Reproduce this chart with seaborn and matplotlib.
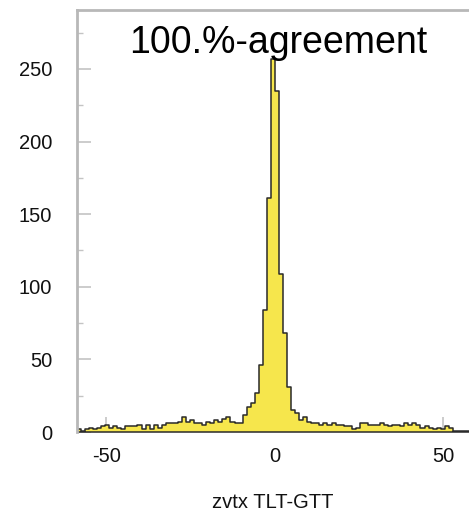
import matplotlib
matplotlib.use("Agg")
import matplotlib.pyplot as plt
from matplotlib.ticker import MultipleLocator
import numpy as np
import pandas as pd
import seaborn as sns

# histogram of zvtx difference TLT-GTT, 100 bins between -60 and 60
bin_lo, bin_hi, n_bins = -60, 60, 100
counts_left = [6, 2, 1, 2, 3, 2, 3, 4, 5, 3,
               4, 3, 2, 4, 4, 4, 5, 2, 5, 2,
               5, 3, 5, 6, 6, 6, 7, 10, 7, 8,
               6, 6, 5, 7, 6, 8, 7, 9, 10, 7,
               6, 6]
counts_peak = [12, 17, 20, 27, 46, 84, 161, 257, 235, 109, 68, 31, 15, 13, 8, 10, 7]
counts_right = [6, 6, 5, 6, 5, 6, 5, 5, 4, 4,
                2, 3, 6, 6, 5, 5, 5, 6, 5, 4,
                5, 5, 4, 6, 5, 6, 5, 3, 4, 3,
                2, 3, 2, 4, 3, 1, 1, 1, 1, 1,
                1]
counts = counts_left + counts_peak + counts_right

title = "100.%-agreement"
xlabel = "zvtx TLT-GTT"
yticks = [0, 50, 100, 150, 200, 250]
xticks = [-50, 0, 50]

edges = np.linspace(bin_lo, bin_hi, n_bins + 1)
df = pd.DataFrame({"zvtx": 0.5 * (edges[:-1] + edges[1:]), "n": counts})

sns.set_style("white")
plt.rcParams['font.family'] = ['Liberation Sans', 'DejaVu Sans']
plt.rcParams['axes.unicode_minus'] = False

fig = plt.figure(figsize=(4.69, 5.13), dpi=100)
ax = fig.add_axes([77/469, 1 - 432/513, 392/469, 422/513])

sns.histplot(data=df, x="zvtx", weights="n", bins=edges.tolist(), element="step", fill=True,
             color="#f6e64c", edgecolor="#2a2a2a", linewidth=1.1, alpha=1, ax=ax)

ax.set_xlim(-58.75, 57.6)
ax.set_ylim(0, 290.6)

for side in ("right", "bottom"):
    ax.spines[side].set_visible(False)
for side in ("top", "left"):
    ax.spines[side].set_color("#b8b8b8")
    ax.spines[side].set_linewidth(2)

ax.set_xticks(xticks)
ax.set_yticks(yticks)
ax.yaxis.set_minor_locator(MultipleLocator(25))
ax.tick_params(axis="both", which="major", direction="in", color="#c4c4c4",
               width=1.2, labelsize=14.5, labelcolor="#111111")
ax.tick_params(axis="y", which="major", length=10, pad=18, left=True)
ax.tick_params(axis="x", which="major", length=11, pad=11, bottom=True)
ax.tick_params(axis="y", which="minor", direction="in", length=4, width=1,
               color="#c4c4c4", left=True)

ax.set_ylabel(None)
ax.set_xlabel(xlabel, fontsize=14.5, labelpad=19, color="#111111")

ax.text(0.514, 0.898, title, transform=ax.transAxes, ha="center", va="baseline",
        fontsize=27, color="black")

fig.savefig("out.png", dpi=100)
